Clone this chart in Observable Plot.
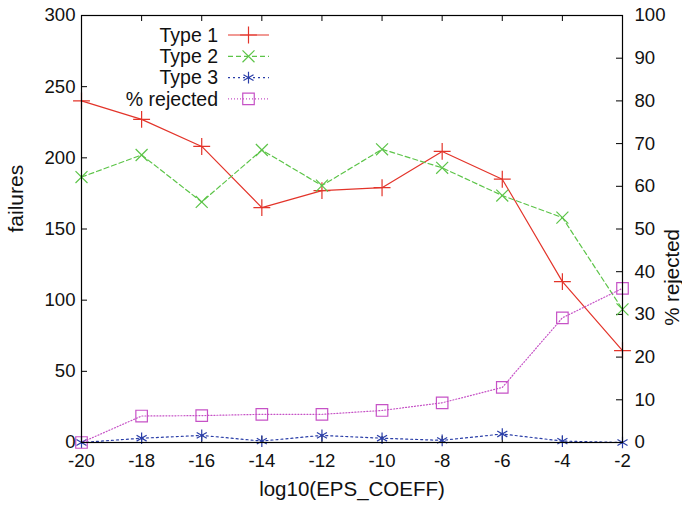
<!DOCTYPE html>
<html><head><meta charset="utf-8">
<script src="https://cdn.jsdelivr.net/npm/d3@7"></script>
<script src="https://cdn.jsdelivr.net/npm/@observablehq/plot@0.6"></script>
<style>
body{margin:0;background:#fff}
#chart svg{font-family:"Liberation Sans",Arial,Helvetica,sans-serif;background:#fff}
</style>
</head><body><div id="chart"></div>
<script>
const epsCoeff = [-20, -18, -16, -14, -12, -10, -8, -6, -4, -2];
const type1 = [240, 227, 208, 165, 177, 179, 204.5, 185, 113, 64.5];
const type2 = [186.5, 202, 169, 205.5, 180.5, 206, 193, 173.5, 158, 93.5];
const type3 = [0, 3, 5, 1, 5, 3, 1.5, 6, 1, 0];
const pctRejected = [0, 6.2, 6.3, 6.6, 6.6, 7.5, 9.3, 12.9, 29.2, 36.1];

const xTicks = [-20, -18, -16, -14, -12, -10, -8, -6, -4, -2];
const yTicks = [0, 50, 100, 150, 200, 250, 300];
const y2Ticks = [0, 10, 20, 30, 40, 50, 60, 70, 80, 90, 100];

const seriesNames = ["Type 1", "Type 2", "Type 3", "% rejected"];
const colors = ["#e3342a", "#5cc448", "#2a3ea8", "#c652c6"];
const symbols = ["plus", "times", "asterisk", "square"];
const dashes = [null, "5,3", "2,3", "1,2"];
const radii = [5.5, 5.5, 5.5, 6.5];

// % rejected mapped onto the left scale (0–100 → 0–300)
const y2Factor = 3;
const seriesValues = [type1, type2, type3, pctRejected.map(v => v * y2Factor)];

const W = 682, H = 510;
const mL = 81, mR = 60, mT = 15, mB = 68;
const fw = W - mL - mR, fh = H - mT - mB;
const FS = 18.6;   // tick labels
const FL = 19.5;   // legend
const FT = 20.5;   // axis titles

const marks = [];
// inward ticks on all four sides
marks.push(Plot.tickX(xTicks, {x: d => d, insetTop: fh - 6, stroke: "#000"}));
marks.push(Plot.tickX(xTicks, {x: d => d, insetBottom: fh - 6, stroke: "#000"}));
marks.push(Plot.tickY(yTicks, {y: d => d, insetRight: fw - 6, stroke: "#000"}));
marks.push(Plot.tickY(y2Ticks.map(v => v * y2Factor), {y: d => d, insetLeft: fw - 6, stroke: "#000"}));

seriesValues.forEach((vals, i) => {
  const data = epsCoeff.map((x, j) => ({x, y: vals[j]}));
  marks.push(Plot.line(data, {x: "x", y: "y", stroke: colors[i], strokeWidth: 1.2, strokeDasharray: dashes[i]}));
  marks.push(Plot.dot(data, {x: "x", y: "y", symbol: symbols[i], stroke: colors[i], fill: "none", r: radii[i], strokeWidth: 1.2}));
});

marks.push(Plot.frame({stroke: "#000", strokeWidth: 1.2}));

marks.push(Plot.axisX(xTicks, {anchor: "bottom", tickSize: 0, tickPadding: 11, fontSize: FS, label: null, fill: "#111", tickFormat: d => String(d)}));
marks.push(Plot.axisY(yTicks, {anchor: "left", tickSize: 0, tickPadding: 6, fontSize: FS, label: null, fill: "#111", tickFormat: d => String(d)}));
marks.push(Plot.axisY(y2Ticks.map(v => v * y2Factor), {anchor: "right", tickSize: 0, tickPadding: 12, fontSize: FS, label: null, tickFormat: d => String(d / y2Factor), fill: "#111"}));

marks.push(Plot.text(["failures"], {frameAnchor: "left", dx: -65, dy: 3.5, rotate: -90, fontSize: 21, fill: "#111", letterSpacing: "1.2px"}));
marks.push(Plot.text(["% rejected"], {frameAnchor: "right", dx: 50, rotate: -90, fontSize: FT, fill: "#111"}));
marks.push(Plot.text(["log10(EPS_COEFF)"], {frameAnchor: "bottom", dy: 53, fontSize: FT, fill: "#111"}));

const chart = Plot.plot({
  width: W, height: H,
  marginLeft: mL, marginRight: mR, marginTop: mT, marginBottom: mB,
  x: {domain: [-20, -2]},
  y: {domain: [0, 300]},
  style: {fontSize: FS + "px", fontFamily: "'Liberation Sans', Arial, Helvetica, sans-serif", background: "#fff", overflow: "visible"},
  marks
});
document.getElementById("chart").appendChild(chart);

// legend (inside plot, top-left)
const svg = d3.select(chart);
const lg = svg.append("g").attr("font-size", FL).attr("fill", "#111");
const symMap = {plus: d3.symbolPlus, times: d3.symbolTimes, asterisk: d3.symbolAsterisk, square: d3.symbolSquare};
seriesNames.forEach((name, i) => {
  const cy = 35 + i * 21.3;
  lg.append("text").attr("x", 218).attr("y", cy).attr("dy", "0.35em").attr("text-anchor", "end").text(name);
  lg.append("line").attr("x1", 228).attr("x2", 269).attr("y1", cy).attr("y2", cy)
    .attr("stroke", colors[i]).attr("stroke-width", 1.2).attr("stroke-dasharray", dashes[i]);
  lg.append("path").attr("transform", `translate(248.5,${cy})`)
    .attr("d", d3.symbol(symMap[symbols[i]], Math.PI * radii[i] * radii[i])())
    .attr("fill", "none").attr("stroke", colors[i]).attr("stroke-width", 1.2);
});
</script>
</body></html>
